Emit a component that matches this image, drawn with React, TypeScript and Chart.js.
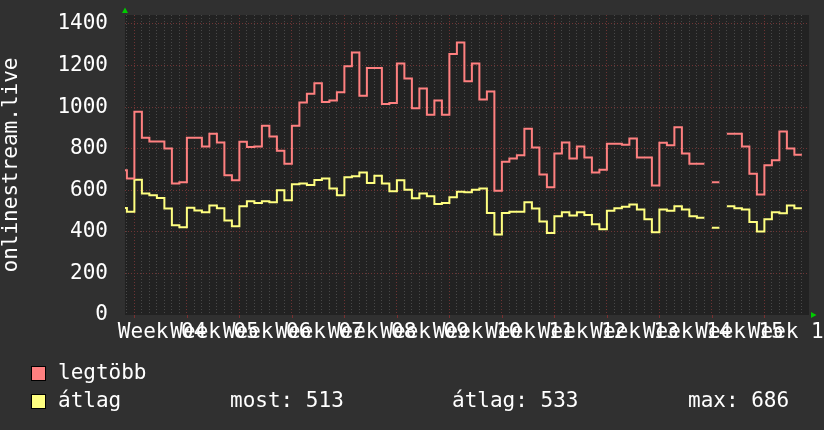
import React, { useEffect, useRef } from 'react';
import { Chart, registerables } from 'chart.js';

Chart.register(...registerables);

// Daily values (one per day interval), null = no data
const legtobb: (number | null)[] = [
  696, 656, 978, 853, 835, 835, 801, 633, 638, 853,
  853, 811, 872, 830, 672, 648, 833, 808, 811, 910,
  859, 790, 728, 910, 1022, 1064, 1115, 1024, 1032, 1071,
  1196, 1263, 1055, 1188, 1188, 1015, 1020, 1210, 1138, 994,
  1090, 963, 1032, 963, 1256, 1311, 1124, 1210, 1037, 1075,
  598, 737, 753, 768, 896, 806, 676, 614, 777, 830,
  753, 811, 758, 686, 699, 824, 824, 819, 849, 758,
  758, 623, 829, 816, 903, 777, 728, 728, null, 638,
  null, 872, 872, 811, 679, 580, 720, 744, 883, 801,
  771,
];

const atlag: (number | null)[] = [
  515, 497, 651, 585, 576, 563, 512, 432, 422, 516,
  503, 494, 527, 513, 454, 427, 523, 547, 539, 547,
  542, 600, 552, 629, 633, 625, 649, 656, 608, 576,
  662, 667, 686, 635, 670, 632, 595, 648, 603, 561,
  584, 571, 534, 539, 566, 593, 590, 603, 608, 491,
  387, 491, 497, 497, 542, 512, 450, 394, 475, 494,
  479, 494, 481, 436, 412, 502, 513, 521, 532, 507,
  460, 398, 507, 502, 523, 508, 475, 468, null, 420,
  null, 523, 513, 507, 447, 402, 460, 494, 489, 527,
  513,
];

const weekLabels = [
  'Week 04', 'Week 05', 'Week 06', 'Week 07', 'Week 08', 'Week 09', 'Week 10',
  'Week 11', 'Week 12', 'Week 13', 'Week 14', 'Week 15', 'Week 16',
];

const yTickValues = [0, 100, 200, 300, 400, 500, 600, 700, 800, 900, 1000, 1100, 1200, 1300, 1400];
const yAxisTitle = 'onlinestream.live';
const seriesNames = ['legtöbb', 'átlag'];
const statTexts = ['most: 513', 'átlag: 533', 'max: 686'];

const RED = '#ff8080';
const YELLOW = '#ffff80';
const X_MAX = 91.2; // days shown
const FIRST_BOUNDARY = 0.25; // first day boundary (days from left edge)
const FIRST_WEEK = 1.25; // first Monday (days from left edge)
const FONT_SIZE = 21;
const FONT = `${FONT_SIZE}px "DejaVu Sans Mono", monospace`;

function toPoints(vals: (number | null)[]) {
  const pts: { x: number; y: number | null }[] = [];
  vals.forEach((v, i) => {
    const start = i === 0 ? 0 : FIRST_BOUNDARY + i - 1;
    const end = FIRST_BOUNDARY + i;
    if (v === null) {
      pts.push({ x: start, y: null });
      return;
    }
    pts.push({ x: start, y: v });
    const next = vals[i + 1];
    if (next === undefined || next === null) pts.push({ x: end, y: v });
  });
  return pts;
}

const decorPlugin = {
  id: 'decor',
  beforeDraw(chart: any) {
    const { ctx, chartArea: a } = chart;
    ctx.save();
    ctx.fillStyle = '#303030';
    ctx.fillRect(0, 0, chart.width, chart.height);
    ctx.fillStyle = '#222222';
    ctx.fillRect(a.left, a.top, a.right - a.left, a.bottom - a.top);
    ctx.restore();
  },
  afterDraw(chart: any) {
    const { ctx, chartArea: a } = chart;
    const xs = chart.scales.x;
    ctx.save();
    // week tick marks
    ctx.strokeStyle = '#7a3030';
    ctx.lineWidth = 1;
    for (let d = FIRST_WEEK; d < X_MAX; d += 7) {
      const px = Math.round(xs.getPixelForValue(d)) + 0.5;
      ctx.beginPath();
      ctx.moveTo(px, a.bottom);
      ctx.lineTo(px, a.bottom + 3);
      ctx.stroke();
    }
    // week labels (centred in the week)
    ctx.fillStyle = '#ffffff';
    ctx.font = FONT;
    ctx.textAlign = 'center';
    ctx.textBaseline = 'alphabetic';
    weekLabels.forEach((lab, k) => {
      const px = xs.getPixelForValue(FIRST_WEEK + 7 * k + 3.5) + 1.5;
      ctx.fillText(lab, px, 338);
    });
    // arrows
    ctx.fillStyle = '#00cc00';
    ctx.beginPath();
    ctx.moveTo(122, 13);
    ctx.lineTo(128, 13);
    ctx.lineTo(125, 7.5);
    ctx.closePath();
    ctx.fill();
    ctx.beginPath();
    ctx.moveTo(811, 312);
    ctx.lineTo(811, 318);
    ctx.lineTo(816.5, 315);
    ctx.closePath();
    ctx.fill();
    // y axis title
    ctx.fillStyle = '#ffffff';
    ctx.save();
    ctx.translate(12, (a.top + a.bottom) / 2);
    ctx.rotate(-Math.PI / 2);
    ctx.textAlign = 'center';
    ctx.textBaseline = 'middle';
    ctx.fillText(yAxisTitle, 0, 0);
    ctx.restore();
    // legend
    const colors = [RED, YELLOW];
    const rowsY = [374, 402];
    ctx.textAlign = 'left';
    ctx.textBaseline = 'middle';
    seriesNames.forEach((name, i) => {
      ctx.fillStyle = colors[i];
      ctx.fillRect(31, rowsY[i] - 8, 15, 15);
      ctx.strokeStyle = '#000000';
      ctx.lineWidth = 1;
      ctx.strokeRect(31.5, rowsY[i] - 7.5, 14, 14);
      ctx.fillStyle = '#ffffff';
      ctx.fillText(name, 58, rowsY[i]);
    });
    const statX = [230, 452, 688];
    statTexts.forEach((t, i) => ctx.fillText(t, statX[i], rowsY[1]));
    ctx.restore();
  },
};

export default function App() {
  const ref = useRef<HTMLCanvasElement | null>(null);
  useEffect(() => {
    if (!ref.current) return;
    const chart = new Chart(ref.current, {
      type: 'line',
      data: {
        datasets: [
          {
            label: seriesNames[0],
            data: toPoints(legtobb) as any,
            borderColor: RED,
            borderWidth: 2,
            pointRadius: 0,
            stepped: true,
            spanGaps: false,
            fill: false,
          },
          {
            label: seriesNames[1],
            data: toPoints(atlag) as any,
            borderColor: YELLOW,
            borderWidth: 2,
            pointRadius: 0,
            stepped: true,
            spanGaps: false,
            fill: false,
          },
        ],
      },
      options: {
        animation: false,
        responsive: false,
        devicePixelRatio: 1,
        layout: { padding: { left: 0, top: 15, right: 15, bottom: 0 } },
        plugins: { legend: { display: false }, tooltip: { enabled: false } },
        scales: {
          x: {
            type: 'linear',
            min: 0,
            max: X_MAX,
            afterBuildTicks: (scale: any) => {
              const t: any[] = [];
              for (let d = FIRST_BOUNDARY; d < X_MAX; d += 1) {
                const major = Math.abs(((d - FIRST_WEEK) % 7 + 7) % 7) < 1e-6;
                t.push({ value: d, major });
              }
              scale.ticks = t;
            },
            afterFit: (scale: any) => {
              scale.height = 115;
              scale.paddingLeft = 0;
              scale.paddingRight = 0;
            },
            ticks: { display: false },
            grid: {
              drawTicks: false,
              color: (c: any) => (c.tick && c.tick.major ? '#6e3434' : '#484848'),
            },
            border: { display: false, dash: [1, 2] },
          },
          y: {
            min: 0,
            max: 1443,
            afterBuildTicks: (scale: any) => {
              scale.ticks = yTickValues.map((v) => ({ value: v, major: v % 200 === 0 }));
            },
            afterFit: (scale: any) => {
              scale.width = 125;
              scale.paddingTop = 0;
              scale.paddingBottom = 0;
            },
            ticks: {
              color: '#ffffff',
              font: { family: 'DejaVu Sans Mono', size: FONT_SIZE },
              padding: 17,
              callback: (v: any) => (Number(v) % 200 === 0 ? String(v) : ''),
            },
            grid: {
              drawTicks: false,
              color: (c: any) =>
                c.tick && c.tick.value === 0 ? 'rgba(0,0,0,0)' : c.tick && c.tick.value % 200 === 0 ? '#6e3434' : '#484848',
            },
            border: { display: false, dash: [1, 2] },
          },
        },
      },
      plugins: [decorPlugin],
    });
    return () => chart.destroy();
  }, []);
  return (
    <div style={{ position: 'fixed', left: 0, top: 0, width: 824, height: 430, background: '#303030' }}>
      <canvas ref={ref} width={824} height={430} style={{ display: 'block' }} />
    </div>
  );
}
